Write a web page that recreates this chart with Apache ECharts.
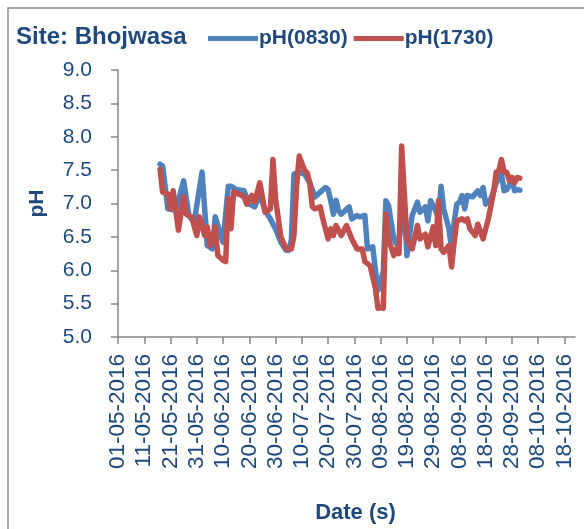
<!DOCTYPE html>
<html>
<head>
<meta charset="utf-8">
<script src="https://cdn.jsdelivr.net/npm/echarts@6/dist/echarts.min.js"></script>
<style>
  html, body { margin: 0; padding: 0; background: #fff; }
  #chart { width: 584px; height: 529px; }
</style>
</head>
<body>
<div id="chart"></div>
<script>
// days counted from 01-05-2016
var startDate = Date.UTC(2016, 4, 1);
var tickDays = [0, 10, 20, 30, 40, 50, 60, 70, 80, 90, 100, 110, 120, 130, 140, 150, 160, 170];

var days0830 = [16, 17, 19, 22, 25, 27, 29, 32, 34, 36, 37, 40, 42, 43, 45, 48, 50, 52, 54, 56,
    58, 60, 62, 64, 65, 66, 67, 69, 71, 73, 75, 77, 79, 80, 81, 82, 83, 84, 85, 88,
    89, 91, 92, 94, 95, 97, 98, 99, 101, 102, 103, 105, 106, 107, 109, 110, 112, 114, 115, 117,
    118, 119, 121, 122, 123, 124, 126, 127, 128, 129, 130, 131, 132, 133, 135, 137, 138, 139, 140, 142,
    143, 144, 146, 147, 148, 150, 151, 152, 153];
var ph0830 = [7.59, 7.56, 6.92, 6.90, 7.34, 6.82, 6.72, 7.47, 6.37, 6.32, 6.80, 6.42, 7.26, 7.26, 7.21, 7.19, 6.99, 6.95, 7.14, 6.89,
    6.77, 6.62, 6.42, 6.30, 6.30, 6.45, 7.44, 7.47, 7.44, 7.31, 7.10, 7.17, 7.24, 7.21, 7.04, 6.84, 7.05, 6.89, 6.84, 6.95,
    6.77, 6.82, 6.80, 6.82, 6.32, 6.35, 6.00, 5.70, 5.98, 7.04, 6.97, 6.47, 6.40, 6.47, 6.92, 6.22, 6.82, 7.02, 6.87, 6.95,
    6.74, 7.04, 6.89, 6.77, 7.26, 6.92, 6.62, 6.32, 6.72, 6.99, 7.02, 7.12, 6.92, 7.12, 7.10, 7.19, 7.12, 7.24, 6.99, 7.07,
    7.19, 7.31, 7.44, 7.19, 7.21, 7.34, 7.19, 7.21, 7.20];

var days1730 = [16, 17, 19, 20, 21, 23, 25, 26, 28, 30, 31, 33, 34, 35, 36, 37, 38, 40, 41, 42,
    43, 44, 46, 48, 49, 51, 52, 54, 56, 58, 59, 60, 62, 64, 66, 67, 68, 69, 71, 72,
    73, 74, 75, 77, 78, 80, 81, 82, 83, 85, 87, 89, 91, 93, 94, 96, 98, 99, 100, 101,
    102, 103, 105, 106, 107, 108, 110, 112, 114, 115, 117, 118, 120, 121, 122, 123, 124, 126, 127, 128,
    129, 131, 132, 133, 134, 136, 137, 139, 141, 142, 143, 144, 145, 146, 147, 148, 149, 150, 151, 152,
    153];
var ph1730 = [7.51, 7.17, 7.14, 6.92, 7.19, 6.60, 7.10, 6.84, 6.80, 6.52, 6.80, 6.52, 6.65, 6.37, 6.47, 6.65, 6.22, 6.15, 6.13, 7.07,
    6.62, 7.17, 7.14, 7.10, 6.99, 7.12, 7.02, 7.31, 6.87, 6.92, 7.66, 7.07, 6.50, 6.32, 6.32, 6.52, 7.26, 7.71, 7.50, 7.46,
    7.31, 6.95, 6.92, 6.95, 6.77, 6.47, 6.62, 6.52, 6.67, 6.52, 6.67, 6.47, 6.32, 6.32, 6.13, 6.07, 5.73, 5.43, 5.45, 5.43,
    6.84, 6.47, 6.22, 6.32, 6.25, 7.86, 6.47, 6.32, 6.67, 6.47, 6.54, 6.35, 6.65, 6.37, 7.04, 6.32, 6.27, 6.37, 6.05, 6.42,
    6.74, 6.77, 6.74, 6.77, 6.62, 6.52, 6.69, 6.47, 6.77, 6.97, 7.17, 7.47, 7.49, 7.66, 7.47, 7.47, 7.34, 7.39, 7.31, 7.39,
    7.38];

function pairUp(days, vals) {
    var out = [];
    for (var i = 0; i < days.length; i++) {
        out.push([days[i], vals[i]]);
    }
    return out;
}

function dayLabel(d) {
    var dt = new Date(startDate + d * 86400000);
    var dd = String(dt.getUTCDate()).padStart(2, '0');
    var mm = String(dt.getUTCMonth() + 1).padStart(2, '0');
    return dd + '-' + mm + '-' + dt.getUTCFullYear();
}

var textColor = '#1F497D';
var axisColor = '#868686';
var font = 'Liberation Sans';

var chartobj = echarts.init(document.getElementById('chart'));
var option = {
    animation: false,
    textStyle: { fontFamily: font },
    title: {
        text: 'Site: Bhojwasa',
        left: 11,
        top: 20,
        textStyle: { color: textColor, fontSize: 24, fontWeight: 'bold', fontFamily: font }
    },
    legend: {
        left: 203,
        top: 23,
        icon: 'rect',
        itemWidth: 50,
        itemHeight: 5,
        itemGap: 6,
        textStyle: { color: textColor, fontSize: 21, fontWeight: 'bold', fontFamily: font, padding: [0, 0, 0, -4] },
        data: ['pH(0830)', 'pH(1730)']
    },
    graphic: [{
        type: 'rect',
        shape: { x: 8, y: 8, width: 700, height: 700 },
        style: { fill: 'none', stroke: '#8c8c8c', lineWidth: 1.5 },
        silent: true
    }],
    grid: { left: 118, right: 9, top: 70, bottom: 190 },
    xAxis: {
        type: 'value',
        min: 0,
        max: 174,
        interval: 10,
        name: 'Date (s)',
        nameLocation: 'middle',
        nameGap: 165,
        nameTextStyle: { color: textColor, fontSize: 22, fontWeight: 'bold', fontFamily: font, padding: [0, 0, 0, 18] },
        splitLine: { show: false },
        axisLine: { show: true, lineStyle: { color: axisColor, width: 1.5 } },
        axisTick: { show: true, length: 7, lineStyle: { color: axisColor, width: 1.5 }, customValues: tickDays },
        axisLabel: {
            rotate: 90,
            margin: 17,
            color: textColor,
            fontSize: 22.5,
            fontFamily: font,
            customValues: tickDays,
            formatter: function (v) { return dayLabel(v); }
        }
    },
    yAxis: {
        type: 'value',
        min: 5,
        max: 9,
        interval: 0.5,
        name: 'pH',
        nameLocation: 'middle',
        nameGap: 70,
        nameRotate: 90,
        nameTextStyle: { color: textColor, fontSize: 21, fontWeight: 'bold', fontFamily: font },
        splitLine: { show: false },
        axisLine: { show: true, lineStyle: { color: axisColor, width: 1.5 } },
        axisTick: { show: true, length: 7, lineStyle: { color: axisColor, width: 1.5 } },
        axisLabel: {
            margin: 26,
            color: textColor,
            fontSize: 21,
            fontFamily: font,
            formatter: function (v) { return v.toFixed(1); }
        }
    },
    series: [
        {
            name: 'pH(0830)',
            type: 'line',
            data: pairUp(days0830, ph0830),
            showSymbol: false,
            color: '#4F81BD',
            lineStyle: { width: 5.5, color: '#4F81BD', cap: 'round', join: 'round' }
        },
        {
            name: 'pH(1730)',
            type: 'line',
            data: pairUp(days1730, ph1730),
            showSymbol: false,
            color: '#C0504D',
            lineStyle: { width: 5.5, color: '#C0504D', cap: 'round', join: 'round' }
        }
    ]
};
chartobj.setOption(option);
</script>
</body>
</html>
